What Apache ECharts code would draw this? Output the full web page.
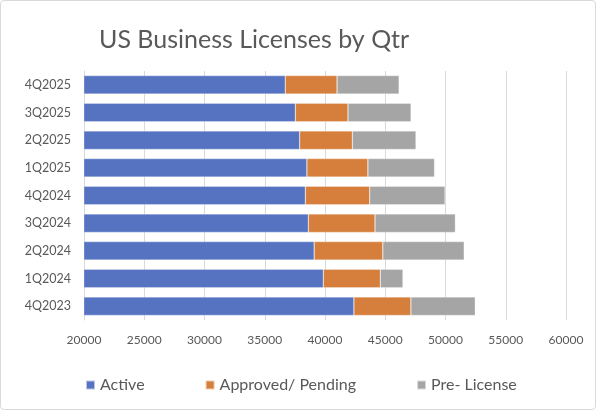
<!DOCTYPE html>
<html><head><meta charset="utf-8">
<script src="https://cdn.jsdelivr.net/npm/echarts@6/dist/echarts.min.js"></script>
<style>
html,body{margin:0;padding:0;background:#fff;}
#c{width:594px;height:408px;border:1px solid #d9d9d9;border-radius:4px;}
</style></head>
<body><div id="c"></div>
<script>
const categories = ['4Q2023','1Q2024','2Q2024','3Q2024','4Q2024','1Q2025','2Q2025','3Q2025','4Q2025'];
const active   = [42400, 39860, 39100, 38620, 38370, 38500, 37900, 37540, 36700];
const approved = [4730, 4730, 5700, 5530, 5340, 5060, 4370, 4370, 4300];
const preLicense = [5340, 1880, 6750, 6670, 6250, 5530, 5280, 5230, 5150];
const xTicks = { min: 20000, max: 60000, interval: 5000 };

const font = 'Lato, "Open Sans", sans-serif';
const chart = echarts.init(document.getElementById('c'), null, {renderer:'canvas'});
const mk = (name, data, color) => ({
  name, type:'bar', stack:'total', data, barCategoryGap:'33%',
  itemStyle:{color, borderColor:'rgba(255,255,255,0.6)', borderWidth:0.5},
  emphasis:{disabled:true}
});
chart.setOption({
  animation:false,
  textStyle:{fontFamily:font},
  title:{text:'US Business Licenses by Qtr', left:93, top:21,
    textStyle:{fontFamily:font, fontSize:25, fontWeight:'normal', color:'#595959'}},
  grid:{left:83, right:29, top:70, bottom:89, containLabel:false},
  legend:{left:79, top:371, itemWidth:9, itemHeight:9, itemGap:60, icon:'rect',
    textStyle:{fontFamily:font, fontSize:16, color:'#595959'},
    data:['Active','Approved/ Pending','Pre- License']},
  xAxis:{type:'value', min:xTicks.min, max:xTicks.max, interval:xTicks.interval,
    axisLine:{show:false}, axisTick:{show:false},
    splitLine:{lineStyle:{color:'#d9d9d9', width:1}},
    axisLabel:{color:'#595959', fontSize:12, fontFamily:font, margin:14,
      formatter: v => String(v)}},
  yAxis:{type:'category', data:categories,
    axisLine:{lineStyle:{color:'#d9d9d9'}}, axisTick:{show:false},
    axisLabel:{color:'#595959', fontSize:12.5, fontFamily:font, margin:13}},
  series:[
    mk('Active', active, '#5673C1'),
    mk('Approved/ Pending', approved, '#D67E3B'),
    mk('Pre- License', preLicense, '#A5A5A5')
  ]
});
</script></body></html>
